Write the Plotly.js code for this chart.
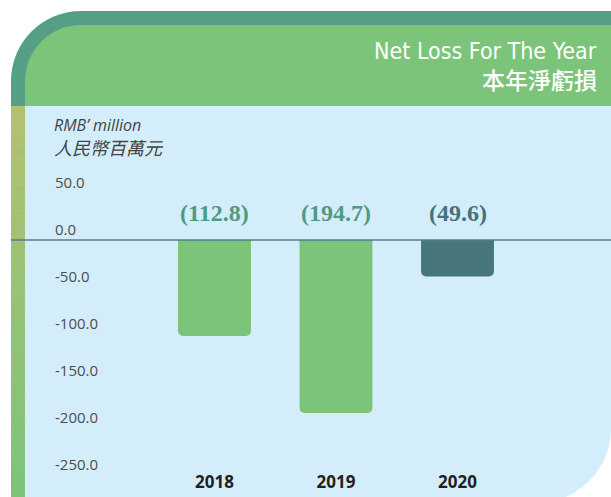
<!DOCTYPE html>
<html>
<head>
<meta charset="utf-8">
<script src="https://cdn.plot.ly/plotly-3.0.1.min.js"></script>
<style>
  html, body { margin: 0; padding: 0; background: #ffffff; }
  #chart { width: 611px; height: 497px; }
</style>
</head>
<body>
<div id="chart"></div>
<script>
// chart data
const years = ['2018', '2019', '2020'];
const netLoss = [-112.8, -194.7, -49.6];
const barColors = ['#7bc47a', '#7bc47a', '#47777b'];
const valueColors = ['#4e9a83', '#4e9a83', '#46727b'];
const yTicks = [50, 0, -50, -100, -150, -200, -250];

// plot area in pixels
const L = 52, T = 110, W = 611 - L, H = 497 - T;
const px = x => (x - L) / W;
const py = y => 1 - (y - T) / H;

// build a path string from pixel points, in paper coords
function path(cmds) {
    return cmds.map(c => {
        if (c === 'Z') return 'Z';
        const op = c[0];
        const nums = c.slice(1);
        const out = [];
        for (let i = 0; i < nums.length; i += 2) {
            out.push(px(nums[i]).toFixed(5) + ',' + py(nums[i + 1]).toFixed(5));
        }
        return op + out.join(' ');
    }).join(' ');
}

const blue = '#d3eefa';
const shapes = [];

// outer dark green frame (top-left rounded)
shapes.push({
    type: 'path', xref: 'paper', yref: 'paper', layer: 'below',
    path: path([['M', 11, 106], ['L', 11, 81], ['C', 11, 42.3, 42.3, 11, 81, 11], ['L', 611, 11], ['L', 611, 106], 'Z']),
    fillcolor: '#55a085', line: { width: 0 }
});
// inner header green
shapes.push({
    type: 'path', xref: 'paper', yref: 'paper', layer: 'below',
    path: path([['M', 25, 106], ['L', 25, 81], ['C', 25, 50.1, 50.1, 25, 81, 25], ['L', 611, 25], ['L', 611, 106], 'Z']),
    fillcolor: '#7bc47a', line: { width: 0 }
});
// light blue panel, bottom-right rounded
shapes.push({
    type: 'path', xref: 'paper', yref: 'paper', layer: 'below',
    path: path([['M', 25, 106], ['L', 611, 106], ['L', 611, 428], ['C', 611, 469.4, 577.4, 503, 536, 503], ['L', 25, 503], 'Z']),
    fillcolor: blue, line: { width: 0 }
});
// left strip, olive to green
const stripTop = [0xb3, 0xc0, 0x71], stripBot = [0x7b, 0xc4, 0x7a];
const steps = 30;
for (let i = 0; i < steps; i++) {
    const f = i / (steps - 1);
    const c = stripTop.map((t, k) => Math.round(t + (stripBot[k] - t) * f));
    const y0 = 106 + (497 - 106) * i / steps;
    const y1 = 106 + (497 - 106) * (i + 1) / steps + 0.5;
    shapes.push({
        type: 'rect', xref: 'paper', yref: 'paper', layer: 'below',
        x0: px(11), x1: px(25), y0: py(y0), y1: py(Math.min(y1, 497)),
        fillcolor: `rgb(${c[0]},${c[1]},${c[2]})`, line: { width: 0 }
    });
}
// bars start just under the drawn base line
shapes.push({
    type: 'rect', xref: 'paper', yref: 'paper', layer: 'above',
    x0: px(150), x1: px(520), y0: py(225), y1: py(240),
    fillcolor: blue, line: { width: 0 }
});
shapes.push({
    type: 'line', xref: 'paper', yref: 'paper', layer: 'above',
    x0: px(11), x1: 1, y0: py(240), y1: py(240),
    line: { color: '#4f7f8b', width: 1.5 }
});

const annotations = [];
// value labels above the base line
netLoss.forEach((v, i) => {
    annotations.push({
        x: i, y: 0, xref: 'x', yref: 'y',
        text: '<b>(' + Math.abs(v).toFixed(1) + ')</b>',
        showarrow: false, yanchor: 'middle', yshift: 17,
        font: { family: 'Liberation Serif, serif', size: 24, color: valueColors[i] }
    });
});
// titles
annotations.push({
    xref: 'paper', yref: 'paper', x: px(599), y: py(51),
    xanchor: 'right', yanchor: 'middle', showarrow: false,
    text: 'Net Loss For The Year',
    font: { family: 'Liberation Sans Narrow, DejaVu Sans Condensed, sans-serif', size: 23, color: '#ffffff' }
});
annotations.push({
    xref: 'paper', yref: 'paper', x: px(599), y: py(79),
    xanchor: 'right', yanchor: 'middle', showarrow: false,
    text: '本年淨虧損',
    font: { family: 'Noto Sans CJK TC', size: 23, weight: 500, color: '#ffffff' }
});
// unit label
annotations.push({
    xref: 'paper', yref: 'paper', x: px(52), y: py(125),
    xanchor: 'left', yanchor: 'middle', showarrow: false,
    text: '<i>RMB’ million</i>',
    font: { family: 'Open Sans, sans-serif', size: 16, color: '#444444' }
});
annotations.push({
    xref: 'paper', yref: 'paper', x: px(52), y: py(147),
    xanchor: 'left', yanchor: 'middle', showarrow: false,
    text: '<i>人民幣百萬元</i>',
    font: { family: 'Noto Sans CJK TC', size: 18, color: '#444444' }
});

const trace = {
    type: 'bar',
    x: years,
    y: netLoss,
    width: 0.6,
    marker: { color: barColors, cornerradius: 5, line: { width: 0 } },
    hoverinfo: 'x+y'
};

const layout = {
    width: 611,
    height: 497,
    margin: { l: L, r: 0, t: T, b: 0, pad: 0 },
    paper_bgcolor: '#ffffff',
    plot_bgcolor: 'rgba(0,0,0,0)',
    showlegend: false,
    xaxis: {
        type: 'category',
        range: [-1.3374, 3.2634],
        showgrid: false, zeroline: false, showline: false,
        ticks: '', ticklen: 0,
        ticklabelposition: 'inside',
        ticklabelstandoff: 3,
        tickfont: { family: 'Open Sans, sans-serif', size: 17, weight: 'bold', color: '#231f20' },
        fixedrange: true
    },
    yaxis: {
        range: [-284.1, 127.6],
        tickvals: yTicks,
        ticktext: yTicks.map(v => v.toFixed(1)),
        showgrid: false, zeroline: false, showline: false,
        ticks: '', ticklen: 0,
        ticklabelposition: 'inside',
        tickfont: { family: 'Open Sans, sans-serif', size: 15, color: '#4d4d4d' },
        fixedrange: true
    },
    shapes: shapes,
    annotations: annotations
};

Plotly.newPlot('chart', [trace], layout, { displayModeBar: false, staticPlot: true });
</script>
</body>
</html>
